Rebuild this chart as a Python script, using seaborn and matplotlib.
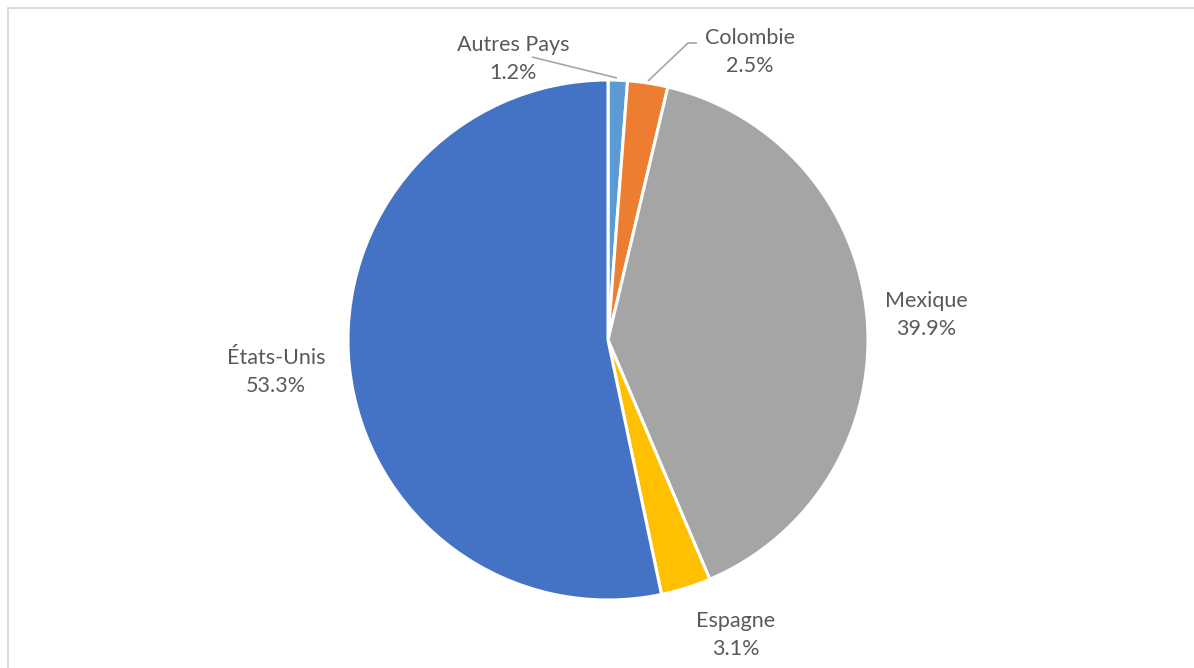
import matplotlib
matplotlib.use("Agg")
import matplotlib.pyplot as plt
from matplotlib.patches import Rectangle
import seaborn as sns

# Share of the total by country (percent), clockwise from 12 o'clock
countries = ["Autres Pays", "Colombie", "Mexique", "Espagne", "États-Unis"]
shares = [1.2, 2.5, 39.9, 3.1, 53.3]
colors = ["#5B9BD5", "#ED7D31", "#A5A5A5", "#FFC000", "#4472C4"]

sns.set_theme(style="white")
plt.rcParams["font.family"] = ["Lato", "DejaVu Sans"]

W, H = 1194, 668
fig = plt.figure(figsize=(W / 100, H / 100), dpi=100)
ax = fig.add_axes([0, 0, 1, 1])

# Pie laid out in pixel units (y measured upward)
cx, cy, radius = 608, H - 340, 260
wedges, _ = ax.pie(
    shares,
    colors=colors,
    startangle=90,
    counterclock=False,
    center=(cx, cy),
    radius=radius,
    wedgeprops=dict(edgecolor="white", linewidth=2.2),
    frame=True,
)
ax.set_xlim(0, W)
ax.set_ylim(0, H)
ax.set_aspect("equal")
ax.axis("off")

# Label anchor points (pixel positions, top-left origin) and optional leader lines
label_pos = {
    "Autres Pays": (513, 59),
    "Colombie": (750, 52),
    "Mexique": (926, 315),
    "Espagne": (736, 635),
    "États-Unis": (276, 372),
}
leaders = {
    "Autres Pays": [(532, 57), (617, 78)],
    "Colombie": [(697, 43), (688, 43), (648, 81)],
}

text_color = "#595959"
for name, val in zip(countries, shares):
    px, py = label_pos[name]
    ax.text(px, H - py, f"{name}\n{val:.1f}%", ha="center", va="center",
            fontsize=15.5, color=text_color, linespacing=1.5)
    if name in leaders:
        xs = [p[0] for p in leaders[name]]
        ys = [H - p[1] for p in leaders[name]]
        ax.plot(xs, ys, color="#A6A6A6", linewidth=1.2, solid_capstyle="butt")

# Thin chart-area frame
fig.patches.append(Rectangle((8 / W, -0.05), 1.1, (H - 7.5) / H + 0.05,
                             transform=fig.transFigure, fill=False,
                             edgecolor="#D9D9D9", linewidth=1.3))

fig.savefig("out.png", dpi=100, facecolor="white")
